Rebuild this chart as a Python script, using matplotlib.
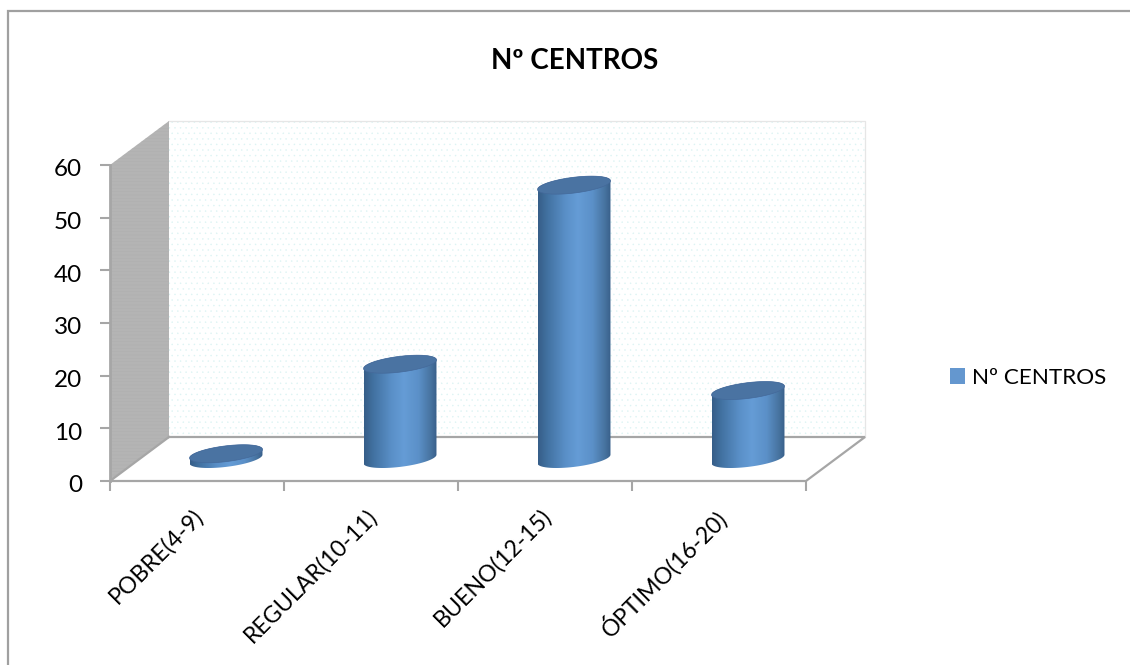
import numpy as np
import matplotlib
matplotlib.use("Agg")
import matplotlib.pyplot as plt
from matplotlib.colors import LinearSegmentedColormap
from matplotlib.patches import Patch, Polygon
from matplotlib.transforms import ScaledTranslation

categories = ["POBRE(4-9)", "REGULAR(10-11)", "BUENO(12-15)", "ÓPTIMO(16-20)"]
centros = [1, 18, 52, 13]
series_name = "Nº CENTROS"
y_ticks = [0, 10, 20, 30, 40, 50, 60]

plt.rcParams["font.family"] = ["Lato", "DejaVu Sans"]
plt.rcParams["hatch.linewidth"] = 0.3

W, H = 1130, 665
LEFT, RIGHT, TOP, BOTTOM = 110, 806, 165, 481
fig = plt.figure(figsize=(W / 100, H / 100), dpi=100, facecolor="white")
ax = fig.add_axes([LEFT / W, 1 - BOTTOM / H, (RIGHT - LEFT) / W, (BOTTOM - TOP) / H])
ax.set_xlim(-0.5, len(categories) - 0.5)
ax.set_ylim(0, 60)
ax.patch.set_alpha(0)

# Conversion from pixels to data units for the oblique 3-D offsets
ux = len(categories) / (RIGHT - LEFT)
uy = 60 / (BOTTOM - TOP)
depth_x, depth_y = 59 * ux, 44 * uy
x0, x1 = -0.5, len(categories) - 0.5
GREY = "#a6a6a6"

# Back wall with pale dotted fill
ax.add_patch(Polygon([(x0 + depth_x, depth_y), (x1 + depth_x, depth_y),
                      (x1 + depth_x, 60 + depth_y), (x0 + depth_x, 60 + depth_y)],
                     closed=True, facecolor="white", edgecolor="#dcf3f3",
                     hatch="...", linewidth=0, clip_on=False, zorder=1))
ax.plot([x0 + depth_x, x1 + depth_x, x1 + depth_x],
        [60 + depth_y, 60 + depth_y, depth_y],
        color="#e6e6e6", lw=0.9, clip_on=False, zorder=1.5)

# Side wall
ax.add_patch(Polygon([(x0, 0), (x0 + depth_x, depth_y), (x0 + depth_x, 60 + depth_y), (x0, 60)],
                     closed=True, facecolor="#b4b4b4", edgecolor="#adadad",
                     hatch="-----", linewidth=0, clip_on=False, zorder=2))

# Floor outline
ax.plot([x0 + depth_x, x1 + depth_x, x1, x0, x0 + depth_x],
        [depth_y, depth_y, 0, 0, depth_y],
        color=GREY, lw=1.6, clip_on=False, zorder=2.5, solid_joinstyle="miter")
ax.plot([x0, x0], [0, 60], color=GREY, lw=2, clip_on=False, zorder=2.5)

# Cylinders: a shaded body clipped to its outline, capped by a sheared ellipse
shade = LinearSegmentedColormap.from_list(
    "cyl", [(0, "#365e88"), (0.14, "#4373a3"), (0.38, "#5a90c8"), (0.55, "#659cd6"),
            (0.75, "#5b90c8"), (0.92, "#47739f"), (1, "#385f8a")])
gradient = np.linspace(0, 1, 256).reshape(1, -1)
a, b, h = 32 * ux, 17.5 * ux, 9 * uy
half_w = np.hypot(a, b)
t_right = np.arctan2(b, a)
for i, value in enumerate(centros):
    cx = i + 58 * ux / 2
    base = depth_y / 2

    def ring(angles, level):
        return np.column_stack([cx + a * np.cos(angles) + b * np.sin(angles),
                                level + h * np.sin(angles)])

    lower = ring(np.linspace(t_right, t_right - np.pi, 90), base)
    upper = ring(np.linspace(t_right - np.pi, t_right - 2 * np.pi, 90), base + value)
    body = Polygon(np.vstack([lower, upper]), closed=True, transform=ax.transData,
                   facecolor="none", edgecolor="none")
    ax.add_patch(body)
    body.set_clip_on(False)
    im = ax.imshow(gradient, cmap=shade, aspect="auto", zorder=3,
                   extent=(cx - half_w, cx + half_w, base - 2 * h, base + value + 2 * h))
    im.set_clip_path(body)
    cap = ring(np.linspace(0, 2 * np.pi, 180), base + value)
    ax.add_patch(Polygon(cap, closed=True, facecolor="#4a73a2", edgecolor="#44699a",
                         linewidth=0.5, clip_on=False, zorder=4))
ax.set_xlim(x0, x1)
ax.set_ylim(0, 60)

# Axes, ticks and labels
for spine in ax.spines.values():
    spine.set_visible(False)
ax.set_yticks(y_ticks)
ax.tick_params(axis="y", length=7, width=1.5, color=GREY, labelsize=17.5, pad=13, labelcolor="black")
down = ScaledTranslation(0, -3 / 100, fig.dpi_scale_trans)
for label in ax.get_yticklabels():
    label.set_transform(label.get_transform() + down)
ax.set_xticks(np.arange(x0, x1 + 0.5))
ax.set_xticklabels([])
ax.tick_params(axis="x", which="major", length=7, width=1.5, color=GREY)
ax.set_xticks(np.arange(len(categories)), minor=True)
ax.set_xticklabels(categories, minor=True, rotation=45, ha="right", rotation_mode="anchor",
                   fontsize=16.7)
ax.tick_params(axis="x", which="minor", length=0, pad=17)
left_shift = ScaledTranslation(-5 / 100, 0, fig.dpi_scale_trans)
for label in ax.get_xticklabels(minor=True):
    label.set_transform(label.get_transform() + left_shift)

fig.text(575 / W, 1 - 61 / H, series_name, ha="center", va="center",
         fontsize=20, fontweight="bold", color="black")

legend = fig.legend(handles=[Patch(facecolor="#6497cf", edgecolor="none", label=series_name)],
                    loc="center left", bbox_to_anchor=(945 / W, 1 - 378 / H), frameon=False,
                    fontsize=16.2, handlelength=0.67, handleheight=0.67, handletextpad=0.35,
                    borderpad=0.2, borderaxespad=0)

# Chart frame, visible along the top and left edges
fig.add_artist(plt.Line2D([8 / W, 8 / W, 1], [0, 1 - 11 / H, 1 - 11 / H],
                          transform=fig.transFigure, color="#a0a0a0", lw=1.6,
                          solid_joinstyle="miter"))

fig.savefig("out.png", dpi=100, facecolor="white")
